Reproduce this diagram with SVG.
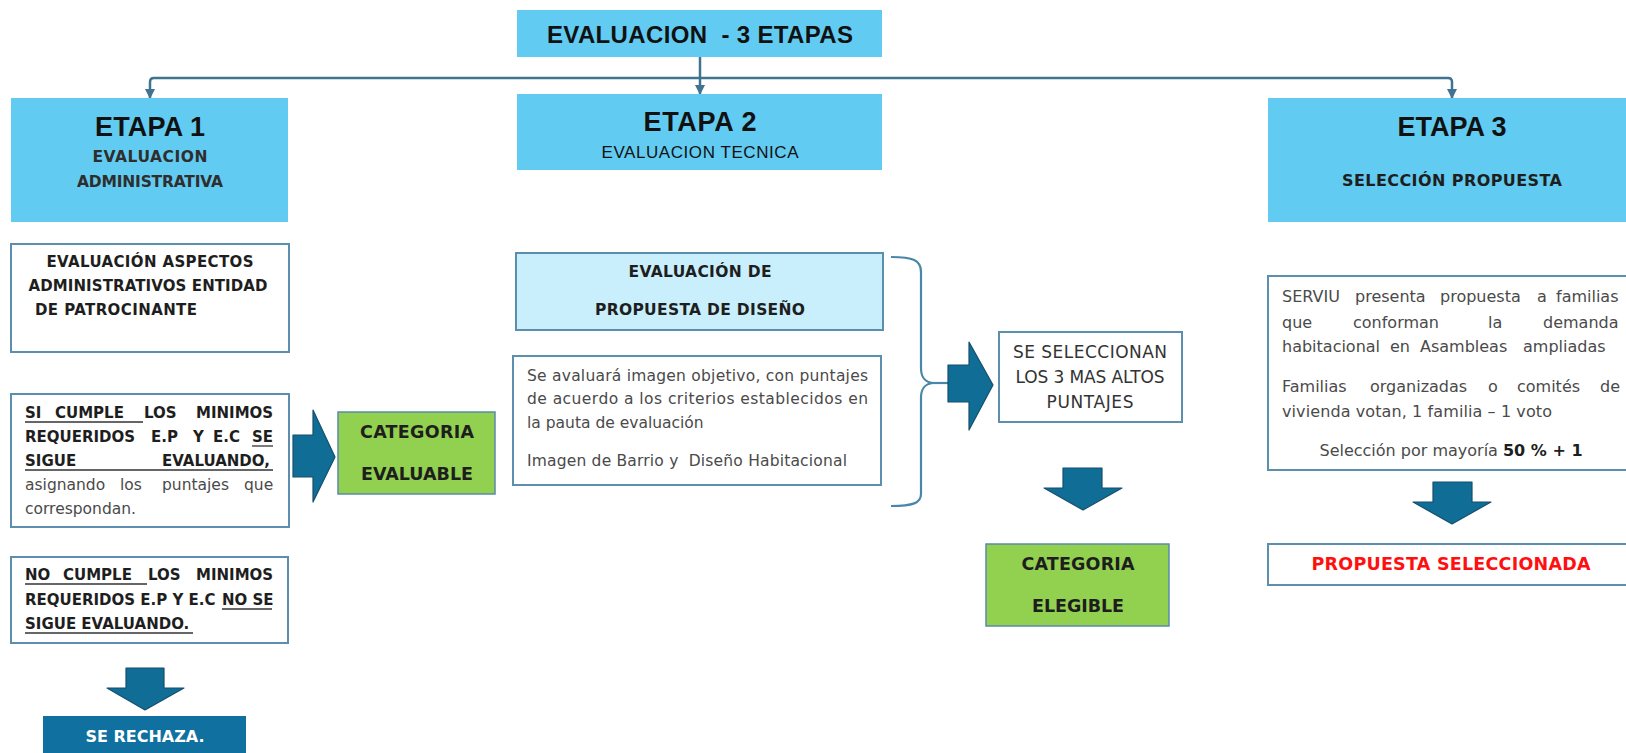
<svg xmlns="http://www.w3.org/2000/svg" width="1626" height="753" viewBox="0 0 1626 753">
<defs>
<style>
.hdr{fill:#62CBF2}
.wbox{fill:#fff;stroke:#5C8FAE;stroke-width:2}
.green{fill:#92D050;stroke:#5A8BAA;stroke-width:1.5}
.conn{fill:none;stroke:#3F7391;stroke-width:2.5}
.blk{fill:#0F6D96;stroke:#164F6E;stroke-width:1.2;stroke-linejoin:round}
.brace{fill:none;stroke:#4A86A8;stroke-width:2.2}
.t{font-family:"Liberation Sans",Arial,sans-serif;fill:#111}
.d{font-family:"DejaVu Sans",sans-serif}
.b{font-weight:bold}
.c{text-anchor:middle;dominant-baseline:central}
.m{dominant-baseline:central}
.dark{fill:#1e1e1e}
.gray{fill:#4a4a4a}
.ul{stroke:#333;stroke-width:1.3}
</style>
<marker id="ad" markerUnits="userSpaceOnUse" markerWidth="10" markerHeight="10" viewBox="0 0 10 10" refX="9" refY="5" orient="auto">
<path d="M0 0 L10 5 L0 10 Z" fill="#3F7391"/>
</marker>
</defs>

<g id="connectors">
<path class="conn" d="M700 57 V94" marker-end="url(#ad)"/>
<path class="conn" d="M700 78 H154 Q150 78 150 82 V98" marker-end="url(#ad)"/>
<path class="conn" d="M700 78 H1448 Q1452 78 1452 82 V98" marker-end="url(#ad)"/>
<path class="brace" d="M891 257 C913 257 921 260 921 272 L921 368 C921 378 925 382 933 383 C925 384 921 388 921 398 L921 494 C921 503 913 506 891 506"/>
<path class="brace" d="M933 383 H948"/>
<path class="blk" d="M293 435 H313 V410 L335 457 L313 502 V477 H293 Z"/>
<path class="blk" d="M948 365 H969 V342 L993 385 L969 430 V402 H948 Z"/>
<path class="blk" d="M126 668 H164 V688 H184 L145 710 L107 688 H126 Z"/>
<path class="blk" d="M1063 468 H1102 V488 H1122 L1083 510 L1044 488 H1063 Z"/>
<path class="blk" d="M1433 482 H1472 V502 H1491 L1452 524 L1413 502 H1433 Z"/>
</g>

<g id="title">
<rect class="hdr" x="517" y="10" width="365" height="47"/>
<text class="t b c" x="700" y="34" font-size="24" textLength="306" style="white-space:pre">EVALUACION  - 3 ETAPAS</text>
</g>

<g id="etapa1">
<rect class="hdr" x="11" y="98" width="277" height="124"/>
<text class="t b c" x="150" y="127" font-size="27" textLength="110">ETAPA 1</text>
<text class="d b c" x="150" y="157" font-size="15.5" fill="#2e2e2e" textLength="115">EVALUACION</text>
<text class="d b c" x="150" y="182" font-size="15.5" fill="#2e2e2e" textLength="146">ADMINISTRATIVA</text>
</g>

<g id="etapa2">
<rect class="hdr" x="517" y="94" width="365" height="76"/>
<text class="t b c" x="700" y="122" font-size="27" textLength="113">ETAPA 2</text>
<text class="t c" x="700" y="152" font-size="17" fill="#2b2b2b" textLength="197">EVALUACION TECNICA</text>
</g>

<g id="etapa3">
<rect class="hdr" x="1268" y="98" width="358" height="124"/>
<text class="t b c" x="1452" y="127" font-size="27" textLength="109">ETAPA 3</text>
<text class="d b c dark" x="1452" y="180" font-size="16" textLength="220">SELECCIÓN PROPUESTA</text>
</g>

<g id="aspectos">
<rect class="wbox" x="11" y="244" width="278" height="108"/>
<text class="d b c dark" x="150" y="262" font-size="15" textLength="207">EVALUACIÓN ASPECTOS</text>
<text class="d b c dark" x="148" y="286" font-size="15" textLength="239">ADMINISTRATIVOS ENTIDAD</text>
<text class="d b m dark" x="35" y="310" font-size="15" textLength="162">DE PATROCINANTE</text>
</g>

<g id="si-cumple">
<rect class="wbox" x="11" y="394" width="278" height="133"/>
<text class="d b m dark" y="413" font-size="15"><tspan x="25">SI</tspan><tspan x="55">CUMPLE</tspan><tspan x="144">LOS</tspan><tspan x="196">MINIMOS</tspan></text>
<text class="d b m dark" y="437" font-size="15"><tspan x="25">REQUERIDOS</tspan><tspan x="151">E.P</tspan><tspan x="193">Y</tspan><tspan x="213">E.C</tspan><tspan x="252">SE</tspan></text>
<text class="d b m dark" y="461" font-size="15"><tspan x="25">SIGUE</tspan><tspan x="162">EVALUANDO,</tspan></text>
<text class="d m gray" y="485" font-size="15.5"><tspan x="25">asignando</tspan><tspan x="120">los</tspan><tspan x="162">puntajes</tspan><tspan x="244">que</tspan></text>
<text class="d m gray" x="25" y="509" font-size="15.5">correspondan.</text>
<line class="ul" x1="25" y1="422" x2="143" y2="422"/>
<line class="ul" x1="252" y1="446" x2="273" y2="446"/>
<line class="ul" x1="25" y1="470" x2="273" y2="470"/>
</g>

<g id="no-cumple">
<rect class="wbox" x="11" y="557" width="277" height="86"/>
<text class="d b m dark" y="575" font-size="15"><tspan x="25">NO</tspan><tspan x="63">CUMPLE</tspan><tspan x="148">LOS</tspan><tspan x="196">MINIMOS</tspan></text>
<text class="d b m dark" y="600" font-size="15"><tspan x="25">REQUERIDOS E.P Y E.C</tspan><tspan x="222">NO SE</tspan></text>
<text class="d b m dark" x="25" y="624" font-size="15">SIGUE EVALUANDO.</text>
<line class="ul" x1="25" y1="584" x2="147" y2="584"/>
<line class="ul" x1="222" y1="609" x2="272" y2="609"/>
<line class="ul" x1="25" y1="633" x2="193" y2="633"/>
</g>

<g id="se-rechaza">
<rect x="43" y="716" width="203" height="40" fill="#1070A0"/>
<text class="d b c" x="145" y="736" font-size="16" fill="#fff" textLength="119">SE RECHAZA.</text>
</g>

<g id="cat-evaluable">
<rect class="green" x="338" y="412" width="157" height="82"/>
<text class="d b c dark" x="417" y="432" font-size="17.5" textLength="114">CATEGORIA</text>
<text class="d b c dark" x="417" y="474" font-size="17.5" textLength="112">EVALUABLE</text>
</g>

<g id="eval-propuesta">
<rect x="516" y="253" width="367" height="77" fill="#C9EEFC" stroke="#5C8FAE" stroke-width="2"/>
<text class="d b c dark" x="700" y="272" font-size="15.5" textLength="143">EVALUACIÓN DE</text>
<text class="d b c dark" x="700" y="310" font-size="15.5" textLength="210">PROPUESTA DE DISEÑO</text>
</g>

<g id="imagen-objetivo">
<rect class="wbox" x="513" y="356" width="368" height="129"/>
<text class="d m gray" x="527" y="376" font-size="15.5" textLength="341" lengthAdjust="spacing">Se avaluará imagen objetivo, con puntajes</text>
<text class="d m gray" x="527" y="399" font-size="15.5" textLength="341" lengthAdjust="spacing">de acuerdo a los criterios establecidos en</text>
<text class="d m gray" x="527" y="423" font-size="15.5">la pauta de evaluación</text>
<text class="d m gray" x="527" y="461" font-size="15.5" textLength="320" style="white-space:pre">Imagen de Barrio y  Diseño Habitacional</text>
</g>

<g id="seleccionan">
<rect class="wbox" x="999" y="332" width="183" height="90"/>
<text class="d c" x="1090" y="352" font-size="17" fill="#333" textLength="154">SE SELECCIONAN</text>
<text class="d c" x="1090" y="377" font-size="17" fill="#333" textLength="149">LOS 3 MAS ALTOS</text>
<text class="d c" x="1090" y="402" font-size="17" fill="#333" textLength="87">PUNTAJES</text>
</g>

<g id="cat-elegible">
<rect class="green" x="986" y="544" width="183" height="82"/>
<text class="d b c dark" x="1078" y="564" font-size="17.5" textLength="113">CATEGORIA</text>
<text class="d b c dark" x="1078" y="606" font-size="17.5" textLength="92">ELEGIBLE</text>
</g>

<g id="serviu">
<rect class="wbox" x="1268" y="276" width="370" height="194"/>
<text class="d m gray" y="296" font-size="16"><tspan x="1282">SERVIU</tspan><tspan x="1355">presenta</tspan><tspan x="1440">propuesta</tspan><tspan x="1537">a</tspan><tspan x="1556">familias</tspan></text>
<text class="d m gray" y="322" font-size="16"><tspan x="1282">que</tspan><tspan x="1353">conforman</tspan><tspan x="1488">la</tspan><tspan x="1543">demanda</tspan></text>
<text class="d m gray" y="346" font-size="16"><tspan x="1282">habitacional</tspan><tspan x="1390">en</tspan><tspan x="1420">Asambleas</tspan><tspan x="1523">ampliadas</tspan></text>
<text class="d m gray" y="386" font-size="16"><tspan x="1282">Familias</tspan><tspan x="1370">organizadas</tspan><tspan x="1488">o</tspan><tspan x="1517">comités</tspan><tspan x="1600">de</tspan></text>
<text class="d m gray" x="1282" y="411" font-size="16" textLength="270">vivienda votan, 1 familia – 1 voto</text>
<text class="d c gray" x="1451" y="450" font-size="16">Selección por mayoría <tspan class="b" fill="#1e1e1e">50 % + 1</tspan></text>
</g>

<g id="propuesta-seleccionada">
<rect class="wbox" x="1268" y="544" width="370" height="41"/>
<text class="d b c" x="1451" y="564" font-size="17.5" fill="#FF1010" textLength="279">PROPUESTA SELECCIONADA</text>
</g>
</svg>
